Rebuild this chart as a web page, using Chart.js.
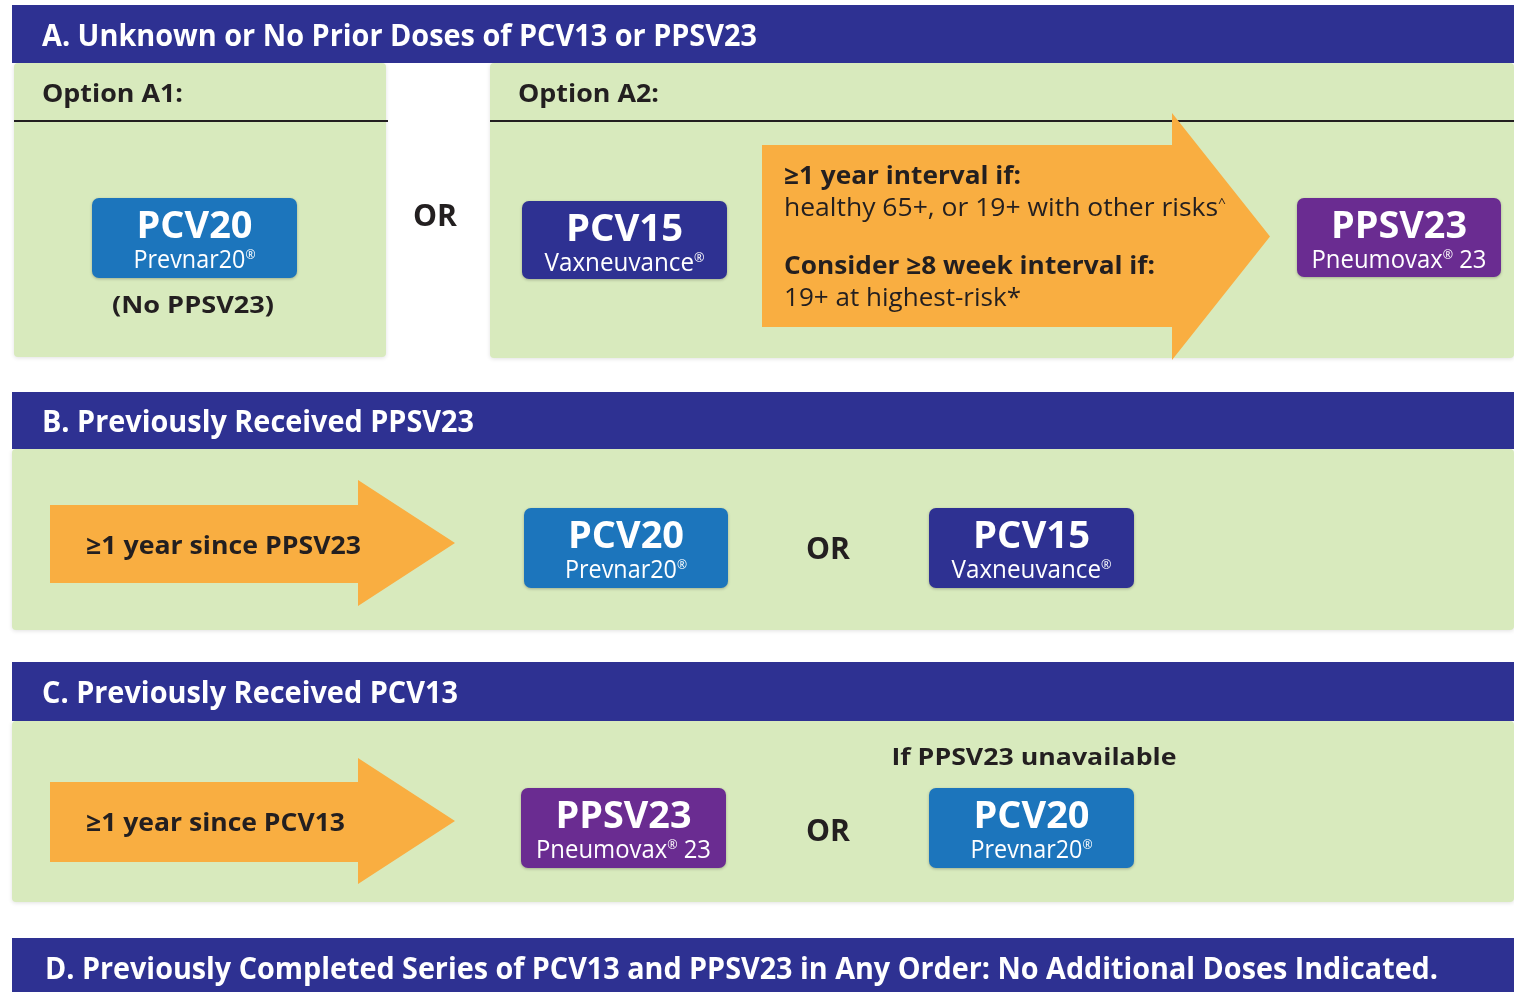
<!DOCTYPE html>
<html>
<head>
<meta charset="utf-8">
<script src="https://cdn.jsdelivr.net/npm/chart.js@4/dist/chart.umd.min.js"></script>
<style>
  body { margin: 0; background: #fff; }
  #wrap { width: 1514px; height: 992px; }
</style>
</head>
<body>
<div id="wrap"><canvas id="flow" width="1514" height="992"></canvas></div>
<script>
// content of the chart
var sectionTitles = [
    'A. Unknown or No Prior Doses of PCV13 or PPSV23',
    'B. Previously Received PPSV23',
    'C. Previously Received PCV13',
    'D. Previously Completed Series of PCV13 and PPSV23 in Any Order: No Additional Doses Indicated.'
];
var optionLabels = ['Option A1:', 'Option A2:'];
var vaccineNames = ['PCV20', 'PCV15', 'PPSV23', 'PCV20', 'PCV15', 'PPSV23', 'PCV20'];
var brandNames = ['Prevnar20\u00ae', 'Vaxneuvance\u00ae', 'Pneumovax\u00ae 23', 'Prevnar20\u00ae', 'Vaxneuvance\u00ae', 'Pneumovax\u00ae 23', 'Prevnar20\u00ae'];
var arrowTexts = [
    ['\u22651 year interval if:', 'healthy 65+, or 19+ with other risks^', 'Consider \u22658 week interval if:', '19+ at highest-risk*'],
    ['\u22651 year since PPSV23'],
    ['\u22651 year since PCV13']
];
var notes = ['(No PPSV23)', 'If PPSV23 unavailable'];
var orLabel = 'OR';

// colours
var navy = '#2e3192', green = '#d8eabd', orange = '#f9ae41', ink = '#231f20';
var boxColors = { PCV20: '#1c75bc', PCV15: '#2e3192', PPSV23: '#6a2c91' };

// layout (scale units = page pixels)
var headerRows = [[5, 63], [392, 449], [662, 721], [938, 1000]];
var headerTextW = [715, 432, 416, 1393];
var panels = [[14, 63, 386, 357], [490, 63, 1514, 358], [12, 449, 1514, 630], [12, 721, 1514, 902]];
var boxes = [[92, 198, 297, 278], [522, 201, 727, 279], [1297, 198, 1501, 277],
             [524, 508, 728, 588], [929, 508, 1134, 588], [521, 788, 726, 868], [929, 788, 1134, 868]];
var nameW = { PCV20: 116, PCV15: 117, PPSV23: 136 };
var brandW = { 'Prevnar20\u00ae': 122, 'Vaxneuvance\u00ae': 160, 'Pneumovax\u00ae 23': 175 };
// body x0, x1, y0, y1, head top, head bottom, tip x
var arrows = [[762, 1172, 145, 327, 113, 360, 1270], [50, 358, 505, 583, 480, 606, 455], [50, 358, 782, 862, 758, 884, 455]];

// draws text squeezed to a given width; '®' and '^' are set small and raised
function fitText(ctx, text, x, y, w, size, weight, color, align) {
    ctx.save();
    ctx.fillStyle = color;
    ctx.textBaseline = 'alphabetic';
    ctx.textAlign = 'left';
    var big = weight + ' ' + size + 'px "Open Sans", sans-serif';
    var small = weight + ' ' + Math.round(size * 0.5) + 'px "Open Sans", sans-serif';
    var parts = text.split(/([\u00ae^])/).filter(function(s) { return s.length; });
    var total = 0;
    parts.forEach(function(s) {
        ctx.font = (s === '\u00ae' || s === '^') ? small : big;
        total += ctx.measureText(s).width;
    });
    var left = align === 'center' ? x - w / 2 : x;
    ctx.translate(left, y + size * 0.36);
    ctx.scale(w / total, 1);
    var cx = 0;
    parts.forEach(function(s) {
        var sup = (s === '\u00ae' || s === '^');
        ctx.font = sup ? small : big;
        ctx.fillText(s, cx, sup ? -size * 0.38 : 0);
        cx += ctx.measureText(s).width;
    });
    ctx.restore();
}

function roundRect(ctx, x0, y0, x1, y1, r) {
    ctx.beginPath();
    ctx.moveTo(x0 + r, y0);
    ctx.arcTo(x1, y0, x1, y1, r);
    ctx.arcTo(x1, y1, x0, y1, r);
    ctx.arcTo(x0, y1, x0, y0, r);
    ctx.arcTo(x0, y0, x1, y0, r);
    ctx.closePath();
}

var diagram = {
    id: 'diagram',
    afterDraw: function(chart) {
        var ctx = chart.ctx;
        var xs = chart.scales.x, ys = chart.scales.y;
        var X = function(v) { return xs.getPixelForValue(v); };
        var Y = function(v) { return ys.getPixelForValue(v); };

        // green panels
        ctx.save();
        ctx.shadowColor = 'rgba(0,0,0,0.12)';
        ctx.shadowBlur = 4;
        ctx.shadowOffsetY = 1;
        panels.forEach(function(p) {
            ctx.fillStyle = green;
            roundRect(ctx, X(p[0]), Y(p[1]), X(p[2]), Y(p[3]), 4);
            ctx.fill();
        });
        ctx.restore();

        // section headers
        headerRows.forEach(function(h, i) {
            ctx.fillStyle = navy;
            ctx.fillRect(X(12), Y(h[0]), X(1514) - X(12), Y(h[1]) - Y(h[0]));
            var tx = i === 3 ? 45 : 42;
            var ty = i === 3 ? 968 : (h[0] + h[1]) / 2 + 1;
            fitText(ctx, sectionTitles[i], X(tx), Y(ty), headerTextW[i], 30, 'bold', '#ffffff');
        });

        // option labels and rules
        fitText(ctx, optionLabels[0], X(42), Y(93), 141, 25, 'bold', ink);
        fitText(ctx, optionLabels[1], X(518), Y(93), 141, 25, 'bold', ink);
        ctx.strokeStyle = ink;
        ctx.lineWidth = 2;
        ctx.beginPath();
        ctx.moveTo(X(14), Y(121)); ctx.lineTo(X(388), Y(121));
        ctx.moveTo(X(490), Y(121)); ctx.lineTo(X(1514), Y(121));
        ctx.stroke();

        // arrows
        arrows.forEach(function(a) {
            ctx.fillStyle = orange;
            ctx.beginPath();
            ctx.moveTo(X(a[0]), Y(a[2]));
            ctx.lineTo(X(a[1]), Y(a[2]));
            ctx.lineTo(X(a[1]), Y(a[4]));
            ctx.lineTo(X(a[6]), Y((a[4] + a[5]) / 2));
            ctx.lineTo(X(a[1]), Y(a[5]));
            ctx.lineTo(X(a[1]), Y(a[3]));
            ctx.lineTo(X(a[0]), Y(a[3]));
            ctx.closePath();
            ctx.fill();
        });
        var t = arrowTexts[0];
        fitText(ctx, t[0], X(784), Y(175), 237, 25, 'bold', ink);
        fitText(ctx, t[1], X(784), Y(207), 442, 25, 'normal', ink);
        fitText(ctx, t[2], X(784), Y(265), 371, 25, 'bold', ink);
        fitText(ctx, t[3], X(784), Y(297), 237, 25, 'normal', ink);
        fitText(ctx, arrowTexts[1][0], X(86), Y(545), 275, 25, 'bold', ink);
        fitText(ctx, arrowTexts[2][0], X(86), Y(822), 259, 25, 'bold', ink);

        // vaccine boxes
        boxes.forEach(function(b, i) {
            var name = vaccineNames[i], brand = brandNames[i];
            ctx.save();
            ctx.shadowColor = 'rgba(0,0,0,0.25)';
            ctx.shadowBlur = 3;
            ctx.shadowOffsetY = 1;
            ctx.fillStyle = boxColors[name];
            roundRect(ctx, X(b[0]), Y(b[1]), X(b[2]), Y(b[3]), 7);
            ctx.fill();
            ctx.restore();
            var cx = X((b[0] + b[2]) / 2);
            fitText(ctx, name, cx, Y(b[1] + 26), nameW[name], 38, 'bold', '#ffffff', 'center');
            fitText(ctx, brand, cx, Y(b[1] + 61), brandW[brand], 25, 'normal', '#ffffff', 'center');
        });

        // OR labels and notes
        fitText(ctx, orLabel, X(435), Y(215), 44, 30, 'bold', ink, 'center');
        fitText(ctx, orLabel, X(828), Y(548), 44, 30, 'bold', ink, 'center');
        fitText(ctx, orLabel, X(828), Y(830), 44, 30, 'bold', ink, 'center');
        fitText(ctx, notes[0], X(193), Y(304), 162, 24, 'bold', ink, 'center');
        fitText(ctx, notes[1], X(1034), Y(756), 285, 24, 'bold', ink, 'center');
    }
};

new Chart(document.getElementById('flow').getContext('2d'), {
    type: 'scatter',
    data: { datasets: [{ data: [] }] },
    options: {
        responsive: false,
        animation: false,
        layout: { padding: 0 },
        plugins: { legend: { display: false }, tooltip: { enabled: false } },
        scales: {
            x: { type: 'linear', min: 0, max: 1514, display: false },
            y: { type: 'linear', min: 0, max: 992, reverse: true, display: false }
        }
    },
    plugins: [diagram]
});
</script>
</body>
</html>
